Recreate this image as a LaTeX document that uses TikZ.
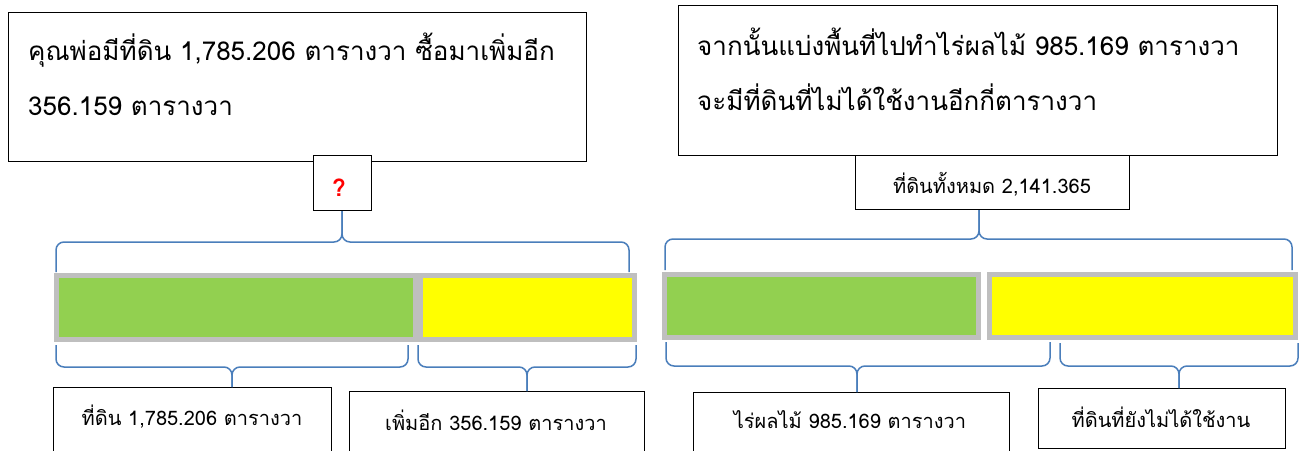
\documentclass[tikz,border=0pt]{standalone}
\usepackage{fontspec}
\newfontfamily\thai[Script=Thai]{Loma}
\definecolor{bargreen}{HTML}{92D050}
\definecolor{baryellow}{HTML}{FFFF00}
\definecolor{bargray}{HTML}{BFBFBF}
\definecolor{braceblue}{HTML}{4A7EBB}
\begin{document}
\begin{tikzpicture}[x=1pt,y=-1pt]
\tikzset{
  frame/.style={draw=black, line width=1pt, fill=white, inner sep=0pt},
  txtbig/.style={font=\thai\fontsize{26}{30}\selectfont, inner sep=0pt, anchor=base west},
  txtsmall/.style={font=\thai\fontsize{20}{24}\selectfont, inner sep=0pt, anchor=base},
  bar/.style={draw=bargray, line width=5pt, inner sep=0pt},
  brace/.style={draw=braceblue, line width=1.5pt, rounded corners=8pt},
}
\useasboundingbox (0,0) rectangle (1300,450);
\clip (0,0) rectangle (1300,450);
\fill[white] (0,0) rectangle (1300,450);

% ---------------- left part ----------------
\node[frame, minimum width=578pt, minimum height=149pt, anchor=north west] (qa) at (8,12) {};
\node[txtbig] (qa1) at (28,60) {คุณพ่อมีที่ดิน 1,785.206 ตารางวา ซื้อมาเพิ่มอีก};
\node[txtbig] (qa2) at (28,115) {356.159 ตารางวา};
\node[frame, minimum width=58pt, minimum height=55pt, anchor=north west] (q) at (313,155) {};
\node[inner sep=0pt, text=red, font=\thai\bfseries\fontsize{24}{26}\selectfont] (qm) at (339,188) {?};

\node[bar, fill=bargreen, minimum width=359pt, minimum height=64pt] (lg) at (236,307.5) {};
\node[bar, fill=baryellow, minimum width=214pt, minimum height=64pt] (ly) at (527.5,307.5) {};

\coordinate (lt1) at (56,272);
\coordinate (lt2) at (629,272);
\draw[brace] (lt1) -- (56,242) -- (342,242) -- (q.south -| 342,0);
\draw[brace] (lt2) -- (629,242) -- (342,242) -- (q.south -| 342,0);

\node[frame, minimum width=278pt, minimum height=100pt, anchor=north west] (la) at (53,387) {};
\node[frame, minimum width=295pt, minimum height=100pt, anchor=north west] (lb) at (349,391) {};
\node[txtsmall] (la1) at (192,425) {ที่ดิน 1,785.206 ตารางวา};
\node[txtsmall] (lb1) at (496,430) {เพิ่มอีก 356.159 ตารางวา};

\coordinate (l11) at (56,345);
\coordinate (l12) at (408,345);
\coordinate (l21) at (418,345);
\coordinate (l22) at (636,345);
\draw[brace] (l11) -- (56,367) -- (232,367) -- (la.north -| 232,0);
\draw[brace] (l12) -- (408,367) -- (232,367) -- (la.north -| 232,0);
\draw[brace] (l21) -- (418,367) -- (527,367) -- (lb.north -| 527,0);
\draw[brace] (l22) -- (636,367) -- (527,367) -- (lb.north -| 527,0);

% ---------------- right part ----------------
\node[frame, minimum width=599pt, minimum height=150pt, anchor=north west] (qb) at (678,5) {};
\node[txtbig] (qb1) at (697,55) {จากนั้นแบ่งพื้นที่ไปทำไร่ผลไม้ 985.169 ตารางวา};
\node[txtbig] (qb2) at (697,110) {จะมีที่ดินที่ไม่ได้ใช้งานอีกกี่ตารางวา};
\node[frame, minimum width=274pt, minimum height=54pt, anchor=north west] (tot) at (855,155) {};
\node[txtsmall] (tot1) at (992,193) {ที่ดินทั้งหมด 2,141.365};

\node[bar, fill=bargreen, minimum width=314pt, minimum height=63pt] (rg) at (821.5,306) {};
\node[bar, fill=baryellow, minimum width=306pt, minimum height=63pt] (ry) at (1142.5,306) {};

\coordinate (rt1) at (665,270);
\coordinate (rt2) at (1292,270);
\draw[brace] (rt1) -- (665,239) -- (979,239) -- (tot.south -| 979,0);
\draw[brace] (rt2) -- (1292,239) -- (979,239) -- (tot.south -| 979,0);

\node[frame, minimum width=316pt, minimum height=100pt, anchor=north west] (ra) at (693,392) {};
\node[frame, minimum width=247pt, minimum height=60pt, anchor=north west] (rb) at (1038,388) {};
\node[txtsmall] (ra1) at (850,428) {ไร่ผลไม้ 985.169 ตารางวา};
\node[txtsmall] (rb1) at (1161,427) {ที่ดินที่ยังไม่ได้ใช้งาน};

\coordinate (r11) at (666,342);
\coordinate (r12) at (1050,342);
\coordinate (r21) at (1060,343);
\coordinate (r22) at (1298,343);
\draw[brace] (r11) -- (666,366) -- (857,366) -- (ra.north -| 857,0);
\draw[brace] (r12) -- (1050,366) -- (857,366) -- (ra.north -| 857,0);
\draw[brace] (r21) -- (1060,366) -- (1179,366) -- (rb.north -| 1179,0);
\draw[brace] (r22) -- (1298,366) -- (1179,366) -- (rb.north -| 1179,0);
\end{tikzpicture}
\end{document}
